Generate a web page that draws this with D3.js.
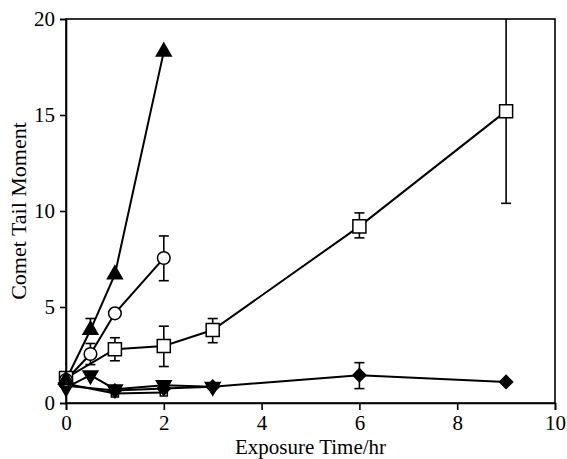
<!DOCTYPE html>
<html><head><meta charset="utf-8">
<script src="https://cdn.jsdelivr.net/npm/d3@7"></script>
<style>body{margin:0;background:#fff}svg{display:block}text{font-family:"Liberation Serif","Times New Roman",serif;fill:#000}</style>
</head><body><svg id="c" width="567" height="459"></svg>
<script>
const xTicks=[0,2,4,6,8,10];
const yTicks=[0,5,10,15,20];
const triUp={x:[0,0.5,1,2],y:[1.2,3.8,6.7,18.3],lo:[null,3.8,null,null],hi:[null,4.4,null,null]};
const circ={x:[0,0.5,1,2],y:[1.2,2.55,4.67,7.55],lo:[null,2.0,null,6.37],hi:[null,3.1,null,8.7]};
const sqBig={x:[0,1,2,3,6,9],y:[1.3,2.8,2.97,3.8,9.2,15.2],lo:[null,2.2,1.9,3.14,8.6,10.4],hi:[null,3.4,4.0,4.4,9.9,21]};
const triDown={x:[0,0.5,1,2,3],y:[0.8,1.45,0.72,0.93,0.85],lo:[null,null,null,null,null],hi:[null,null,null,null,null]};
const diamond={x:[0,1,2,3,6,9],y:[0.9,0.65,0.75,0.85,1.45,1.1],lo:[null,null,null,null,0.75,null],hi:[null,null,null,null,2.1,null]};
const sqSmall={x:[0,1,2],y:[1.0,0.5,0.55],lo:[null,null,null],hi:[null,null,null]};

const svg=d3.select("#c");
const m={l:66,r:555,t:19,b:403};
const x=d3.scaleLinear().domain([0,10]).range([m.l,m.r]);
const y=d3.scaleLinear().domain([0,20]).range([m.b,m.t]);

svg.append("defs").append("clipPath").attr("id","clip").append("rect")
  .attr("x",m.l-20).attr("y",m.t).attr("width",m.r-m.l+40).attr("height",m.b-m.t+20);

svg.append("rect").attr("x",m.l).attr("y",m.t).attr("width",m.r-m.l).attr("height",m.b-m.t)
  .attr("fill","none").attr("stroke","#000").attr("stroke-width",1.6);

const xa=svg.append("g").attr("transform",`translate(0,${m.b})`)
  .call(d3.axisBottom(x).tickValues(xTicks).tickSize(7).tickPadding(3).tickFormat(d3.format("d")));
const ya=svg.append("g").attr("transform",`translate(${m.l},0)`)
  .call(d3.axisLeft(y).tickValues(yTicks).tickSize(6).tickPadding(5).tickFormat(d3.format("d")));
[xa,ya].forEach(a=>{a.select(".domain").attr("stroke","#000").attr("stroke-width",1.6);
  a.selectAll(".tick line").attr("stroke","#000").attr("stroke-width",1.6);
  a.selectAll("text").attr("font-size",21).attr("font-family","Liberation Serif");});
xa.selectAll(".tick text").attr("dy",null).attr("y",27);

svg.append("text").attr("x",(m.l+m.r)/2).attr("y",454).attr("text-anchor","middle")
  .attr("font-size",21).text("Exposure Time/hr");
svg.append("text").attr("transform",`translate(26,${(m.t+m.b)/2}) rotate(-90)`)
  .attr("text-anchor","middle").attr("font-size",22).text("Comet Tail Moment");

const plot=svg.append("g").attr("clip-path","url(#clip)");
const line=d3.line().x(d=>x(d[0])).y(d=>y(d[1]));

function series(s){
  const pts=s.x.map((v,i)=>[v,s.y[i],s.lo[i],s.hi[i]]);
  plot.append("path").attr("d",line(pts)).attr("fill","none").attr("stroke","#000").attr("stroke-width",2);
  return pts;
}
function errs(pts){
  pts.forEach(p=>{
    [p[2],p[3]].forEach(v=>{ if(v==null) return;
      plot.append("line").attr("x1",x(p[0])).attr("x2",x(p[0])).attr("y1",y(p[1])).attr("y2",y(v))
        .attr("stroke","#000").attr("stroke-width",1.6);
      plot.append("line").attr("x1",x(p[0])-5).attr("x2",x(p[0])+5).attr("y1",y(v)).attr("y2",y(v))
        .attr("stroke","#000").attr("stroke-width",1.6);
    });
  });
}
const all=[
 {s:sqSmall,sym:d3.symbolSquare,size:50,fill:"#fff"},
 {s:diamond,sym:d3.symbolSquare,size:85,fill:"#000",rot:45},
 {s:triDown,sym:d3.symbolTriangle,size:95,fill:"#000",rot:180},
 {s:sqBig,sym:d3.symbolSquare,size:170,fill:"#fff"},
 {s:circ,sym:d3.symbolCircle,size:125,fill:"#fff"},
 {s:triUp,sym:d3.symbolTriangle,size:95,fill:"#000"}
];
const ptsAll=all.map(o=>series(o.s));
ptsAll.forEach(p=>errs(p));
all.forEach((o,k)=>{
  plot.selectAll(null).data(ptsAll[k]).enter().append("path")
    .attr("d",d3.symbol().type(o.sym).size(o.size))
    .attr("transform",d=>`translate(${x(d[0])},${y(d[1])}) rotate(${o.rot||0})`)
    .attr("fill",o.fill).attr("stroke","#000").attr("stroke-width",1.5);
});
</script></body></html>
